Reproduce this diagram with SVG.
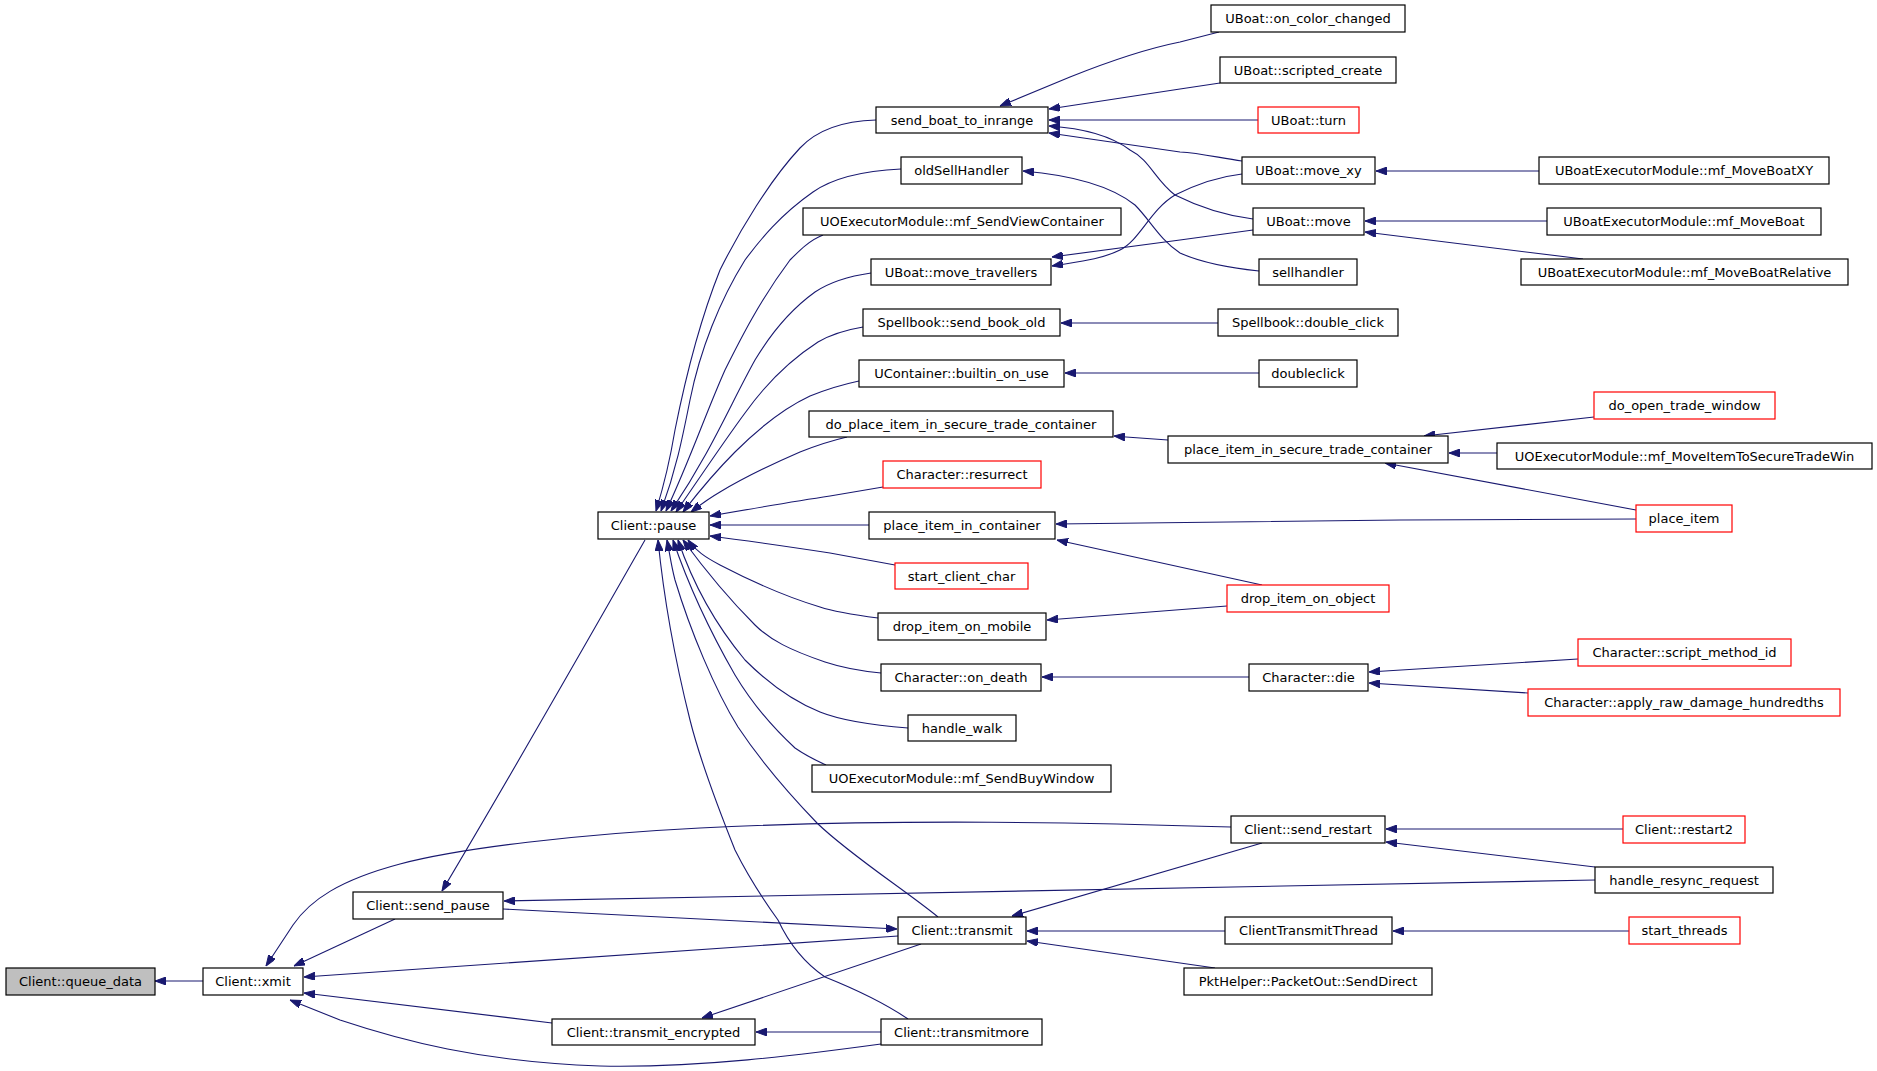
<svg xmlns="http://www.w3.org/2000/svg" width="1877" height="1071" viewBox="0 0 1877 1071">
<defs>
<marker id="a" viewBox="0 0 11 8" refX="11" refY="4" markerWidth="11" markerHeight="8" markerUnits="userSpaceOnUse" orient="auto">
<path d="M0,0 L11,4 L0,8 z" fill="#191970" stroke="#191970" stroke-width="1"/>
</marker>
</defs>
<style>
rect{fill:#ffffff;stroke:#000000;stroke-width:1.2}
.r rect{stroke:#ff0000}
.g rect{fill:#bfbfbf}
text{font-family:"DejaVu Sans","Liberation Sans",sans-serif;font-size:13px;text-anchor:middle;fill:#000000}
.e path{fill:none;stroke:#191970;stroke-width:1.1;marker-end:url(#a)}
</style>
<rect x="0" y="0" width="1877" height="1071" style="fill:#ffffff;stroke:none"/>
<g id="edges" class="e">
<path d="M203,981 L155,981"/>
<path d="M395,919 L294,966"/>
<path d="M1231,827 C1100,823 900,818 700,828 C580,834 460,848 400,864 C340,880 310,900 293,925 L266,966"/>
<path d="M898,936 L304,977"/>
<path d="M552,1023 L304,993"/>
<path d="M881,1044 C800,1055 700,1068 600,1066 C480,1062 400,1040 340,1020 L290,1000"/>
<path d="M645,540 C625,575 520,760 442,891"/>
<path d="M1595,880 L504,901"/>
<path d="M503,909 L897,929"/>
<path d="M1262,843 L1012,916"/>
<path d="M1225,931 L1027,931"/>
<path d="M1215,968 L1027,941"/>
<path d="M921,944 L702,1018"/>
<path d="M881,1032 L756,1032"/>
<path d="M876,120 C840,121 815,132 800,148 C770,180 740,230 720,270 C700,320 685,380 675,430 C670,460 664,485 656,511"/>
<path d="M901,169 C860,171 830,180 813,192 C780,215 760,240 745,260 C720,300 700,350 690,400 C682,440 676,470 661,511"/>
<path d="M823,235 C810,240 800,250 790,260 C760,300 740,340 725,370 C705,415 690,460 666,511"/>
<path d="M871,273 C850,276 830,282 815,292 C790,310 770,335 755,360 C730,405 712,450 671,511"/>
<path d="M863,327 C845,330 830,335 818,342 C790,360 765,385 745,413 C725,440 705,470 676,512"/>
<path d="M859,381 C840,385 825,390 810,396 C780,410 755,432 735,452 C715,472 700,490 683,512"/>
<path d="M847,437 C830,441 815,446 800,452 C770,465 740,480 720,492 C708,499 700,505 691,512"/>
<path d="M883,487 L830,496 C790,502 750,509 710,516"/>
<path d="M869,525 L710,525"/>
<path d="M895,565 L830,553 C790,547 750,541 710,536"/>
<path d="M878,618 C855,615 835,612 820,607 C780,595 745,578 720,565 C705,557 696,551 688,540"/>
<path d="M881,673 C860,671 840,667 825,662 C790,650 770,640 755,625 C730,600 705,570 683,540"/>
<path d="M908,728 C870,725 840,720 820,712 C790,700 765,680 745,660 C720,630 695,590 678,540"/>
<path d="M826,765 C815,760 805,755 795,748 C770,725 750,700 735,675 C712,635 690,590 673,540"/>
<path d="M938,917 C905,890 850,855 817,823 C790,795 760,760 738,727 C715,690 690,630 675,580 C671,565 670,555 667,540"/>
<path d="M908,1019 C880,1000 845,985 825,977 C800,960 785,935 778,920 C760,895 745,870 735,850 C715,800 700,760 690,720 C675,660 664,600 658,540"/>
<path d="M1219,32 L1180,42 C1140,50 1100,65 1070,77 L1000,106"/>
<path d="M1220,83 L1180,89 L1049,109"/>
<path d="M1258,120 L1049,120"/>
<path d="M1242,161 C1220,158 1200,153 1180,152 L1049,133"/>
<path d="M1253,219 C1220,215 1195,205 1175,195 C1155,180 1150,160 1130,150 C1110,135 1080,128 1049,126"/>
<path d="M1242,174 C1215,177 1195,185 1175,195 C1150,210 1140,240 1120,250 C1100,260 1075,262 1052,266"/>
<path d="M1253,230 L1180,240 L1052,257"/>
<path d="M1259,271 C1230,268 1200,262 1180,253 C1160,240 1150,220 1135,205 C1110,185 1070,175 1023,171"/>
<path d="M1539,171 L1376,171"/>
<path d="M1547,221 L1365,221"/>
<path d="M1583,259 L1365,232"/>
<path d="M1218,323 L1061,323"/>
<path d="M1259,373 L1065,373"/>
<path d="M1168,440 L1126,437 L1114,436"/>
<path d="M1594,417 L1424,436"/>
<path d="M1497,453 L1449,453"/>
<path d="M1636,510 L1385,463"/>
<path d="M1636,519 L1400,520 L1056,524"/>
<path d="M1262,585 L1057,540"/>
<path d="M1227,606 L1047,620"/>
<path d="M1249,677 L1042,677"/>
<path d="M1578,659 L1369,672"/>
<path d="M1528,693 L1369,683"/>
<path d="M1623,829 L1386,829"/>
<path d="M1595,867 L1386,842"/>
<path d="M1629,931 L1393,931"/>
</g>
<g id="n_queue_data" class="g"><rect x="6" y="968" width="149" height="27"/><text x="80.5" y="986">Client::queue_data</text></g>
<g id="n_xmit"><rect x="203" y="968" width="100" height="27"/><text x="253" y="986">Client::xmit</text></g>
<g id="n_send_pause"><rect x="353" y="892" width="150" height="27"/><text x="428" y="910">Client::send_pause</text></g>
<g id="n_transmit_encrypted"><rect x="552" y="1019" width="203" height="26"/><text x="653.5" y="1036.5">Client::transmit_encrypted</text></g>
<g id="n_transmitmore"><rect x="881" y="1019" width="161" height="26"/><text x="961.5" y="1036.5">Client::transmitmore</text></g>
<g id="n_transmit"><rect x="898" y="917" width="128" height="27"/><text x="962" y="935">Client::transmit</text></g>
<g id="n_pause"><rect x="598" y="512" width="111" height="27"/><text x="653.5" y="530">Client::pause</text></g>
<g id="n_send_boat_to_inrange"><rect x="876" y="107" width="172" height="26"/><text x="962" y="124.5">send_boat_to_inrange</text></g>
<g id="n_oldSellHandler"><rect x="901" y="157" width="121" height="27"/><text x="961.5" y="175">oldSellHandler</text></g>
<g id="n_mf_SendViewContainer"><rect x="803" y="208" width="318" height="27"/><text x="962" y="226">UOExecutorModule::mf_SendViewContainer</text></g>
<g id="n_move_travellers"><rect x="871" y="259" width="180" height="26"/><text x="961" y="276.5">UBoat::move_travellers</text></g>
<g id="n_send_book_old"><rect x="863" y="309" width="197" height="27"/><text x="961.5" y="327">Spellbook::send_book_old</text></g>
<g id="n_builtin_on_use"><rect x="859" y="360" width="205" height="27"/><text x="961.5" y="378">UContainer::builtin_on_use</text></g>
<g id="n_do_place_item"><rect x="809" y="411" width="304" height="26"/><text x="961" y="428.5">do_place_item_in_secure_trade_container</text></g>
<g id="n_resurrect" class="r"><rect x="883" y="461" width="158" height="27"/><text x="962" y="479">Character::resurrect</text></g>
<g id="n_place_item_in_container"><rect x="869" y="512" width="186" height="27"/><text x="962" y="530">place_item_in_container</text></g>
<g id="n_start_client_char" class="r"><rect x="895" y="563" width="133" height="26"/><text x="961.5" y="580.5">start_client_char</text></g>
<g id="n_drop_item_on_mobile"><rect x="878" y="613" width="168" height="27"/><text x="962" y="631">drop_item_on_mobile</text></g>
<g id="n_on_death"><rect x="881" y="664" width="160" height="27"/><text x="961" y="682">Character::on_death</text></g>
<g id="n_handle_walk"><rect x="908" y="715" width="108" height="26"/><text x="962" y="732.5">handle_walk</text></g>
<g id="n_mf_SendBuyWindow"><rect x="812" y="765" width="299" height="27"/><text x="961.5" y="783">UOExecutorModule::mf_SendBuyWindow</text></g>
<g id="n_on_color_changed"><rect x="1211" y="5" width="194" height="27"/><text x="1308" y="23">UBoat::on_color_changed</text></g>
<g id="n_scripted_create"><rect x="1220" y="57" width="176" height="26"/><text x="1308" y="74.5">UBoat::scripted_create</text></g>
<g id="n_turn" class="r"><rect x="1258" y="107" width="101" height="26"/><text x="1308.5" y="124.5">UBoat::turn</text></g>
<g id="n_move_xy"><rect x="1242" y="157" width="133" height="27"/><text x="1308.5" y="175">UBoat::move_xy</text></g>
<g id="n_mf_MoveBoatXY"><rect x="1539" y="157" width="290" height="27"/><text x="1684" y="175">UBoatExecutorModule::mf_MoveBoatXY</text></g>
<g id="n_move"><rect x="1253" y="208" width="111" height="27"/><text x="1308.5" y="226">UBoat::move</text></g>
<g id="n_mf_MoveBoat"><rect x="1547" y="208" width="274" height="27"/><text x="1684" y="226">UBoatExecutorModule::mf_MoveBoat</text></g>
<g id="n_sellhandler"><rect x="1259" y="259" width="98" height="26"/><text x="1308" y="276.5">sellhandler</text></g>
<g id="n_mf_MoveBoatRelative"><rect x="1521" y="259" width="327" height="26"/><text x="1684.5" y="276.5">UBoatExecutorModule::mf_MoveBoatRelative</text></g>
<g id="n_double_click"><rect x="1218" y="309" width="180" height="27"/><text x="1308" y="327">Spellbook::double_click</text></g>
<g id="n_doubleclick"><rect x="1259" y="360" width="98" height="27"/><text x="1308" y="378">doubleclick</text></g>
<g id="n_do_open_trade_window" class="r"><rect x="1594" y="392" width="181" height="27"/><text x="1684.5" y="410">do_open_trade_window</text></g>
<g id="n_place_item_in_secure_trade_container"><rect x="1168" y="436" width="280" height="27"/><text x="1308" y="454">place_item_in_secure_trade_container</text></g>
<g id="n_mf_MoveItemToSecureTradeWin"><rect x="1497" y="443" width="375" height="26"/><text x="1684.5" y="460.5">UOExecutorModule::mf_MoveItemToSecureTradeWin</text></g>
<g id="n_place_item" class="r"><rect x="1636" y="505" width="96" height="27"/><text x="1684" y="523">place_item</text></g>
<g id="n_drop_item_on_object" class="r"><rect x="1227" y="585" width="162" height="27"/><text x="1308" y="603">drop_item_on_object</text></g>
<g id="n_die"><rect x="1249" y="664" width="119" height="27"/><text x="1308.5" y="682">Character::die</text></g>
<g id="n_script_method_id" class="r"><rect x="1578" y="639" width="213" height="27"/><text x="1684.5" y="657">Character::script_method_id</text></g>
<g id="n_apply_raw_damage_hundredths" class="r"><rect x="1528" y="689" width="312" height="27"/><text x="1684" y="707">Character::apply_raw_damage_hundredths</text></g>
<g id="n_send_restart"><rect x="1231" y="816" width="154" height="27"/><text x="1308" y="834">Client::send_restart</text></g>
<g id="n_restart2" class="r"><rect x="1623" y="816" width="122" height="27"/><text x="1684" y="834">Client::restart2</text></g>
<g id="n_handle_resync_request"><rect x="1595" y="867" width="178" height="26"/><text x="1684" y="884.5">handle_resync_request</text></g>
<g id="n_ClientTransmitThread"><rect x="1225" y="917" width="167" height="27"/><text x="1308.5" y="935">ClientTransmitThread</text></g>
<g id="n_start_threads" class="r"><rect x="1629" y="917" width="111" height="27"/><text x="1684.5" y="935">start_threads</text></g>
<g id="n_SendDirect"><rect x="1184" y="968" width="248" height="27"/><text x="1308" y="986">PktHelper::PacketOut::SendDirect</text></g>
</svg>
